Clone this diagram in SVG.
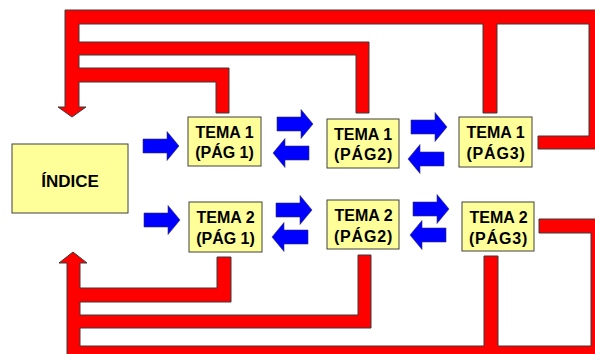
<svg xmlns="http://www.w3.org/2000/svg" width="595" height="354" viewBox="0 0 595 354">
<style>
.box{fill:#FFFF99;stroke:#404040;stroke-width:1}
.red{fill:#FF0000;stroke:#3a3a3a;stroke-width:1;stroke-linejoin:miter}
.blue{fill:#0000FF;stroke:#303060;stroke-width:0.6}
text{font-family:"Liberation Sans",Arial,sans-serif;font-weight:bold;font-size:16px;fill:#000;text-anchor:middle}
.sp{letter-spacing:0.8px}
</style>
<defs>
<path id="ar" d="M0,-7 L24,-7 L24,-14.5 L36,0 L24,14.5 L24,7 L0,7 Z"/>
</defs>
<rect width="595" height="354" fill="#fff"/>
<g id="connectors">
<path class="red" d="M65,10 L605,10 L605,149 L538,149 L538,136 L589,136 L589,24 L497,24 L497,113 L483,113 L483,24 L79,24 L79,42 L369,42 L369,113 L356,113 L356,55 L79,55 L79,68 L229,68 L229,113 L216,113 L216,82 L79,82 L79,107 L86,107 L72,117 L58,107 L65,107 Z"/>
<path class="red" d="M73,252 L87,263 L80,263 L80,288 L217,288 L217,257 L231,257 L231,302 L80,302 L80,315 L358,315 L358,255 L371,255 L371,328 L80,328 L80,346 L484,346 L484,256 L498,256 L498,346 L591,346 L591,233 L539,233 L539,219 L605,219 L605,362 L67,362 L67,263 L59,263 Z"/>
<use href="#ar" class="blue" transform="translate(143,146)"/>
<use href="#ar" class="blue" transform="translate(277,124)"/>
<use href="#ar" class="blue" transform="translate(309,153) scale(-1,1)"/>
<use href="#ar" class="blue" transform="translate(411,127)"/>
<use href="#ar" class="blue" transform="translate(444,159) scale(-1,1)"/>
<use href="#ar" class="blue" transform="translate(144,220)"/>
<use href="#ar" class="blue" transform="translate(276,210)"/>
<use href="#ar" class="blue" transform="translate(308,237) scale(-1,1)"/>
<use href="#ar" class="blue" transform="translate(413,209)"/>
<use href="#ar" class="blue" transform="translate(446,235) scale(-1,1)"/>
</g>
<g id="indice">
<rect class="box" x="12" y="144" width="116" height="69"/>
<text x="70" y="187" style="font-size:17px">ÍNDICE</text>
</g>
<g id="tema1-pag1">
<rect class="box" x="188" y="117" width="73" height="49"/>
<text x="224.5" y="137.5">TEMA 1</text>
<text x="224.5" y="157.5">(PÁG 1)</text>
</g>
<g id="tema1-pag2">
<rect class="box" x="327" y="119" width="72" height="49"/>
<text x="363" y="139.5">TEMA 1</text>
<text x="363.5" y="159.5" class="sp">(PÁG2)</text>
</g>
<g id="tema1-pag3">
<rect class="box" x="459" y="117" width="73" height="50"/>
<text x="495.5" y="137.5">TEMA 1</text>
<text x="496" y="158.5" class="sp">(PÁG3)</text>
</g>
<g id="tema2-pag1">
<rect class="box" x="189" y="202" width="73" height="50"/>
<text x="225.5" y="222.5">TEMA 2</text>
<text x="225.5" y="243.5">(PÁG 1)</text>
</g>
<g id="tema2-pag2">
<rect class="box" x="327" y="200" width="72" height="49"/>
<text x="363.5" y="220.5">TEMA 2</text>
<text x="363.5" y="241.5" class="sp">(PÁG2)</text>
</g>
<g id="tema2-pag3">
<rect class="box" x="462" y="202" width="72" height="49"/>
<text x="498.5" y="222.5">TEMA 2</text>
<text x="498.5" y="243.5" class="sp">(PÁG3)</text>
</g>
</svg>
